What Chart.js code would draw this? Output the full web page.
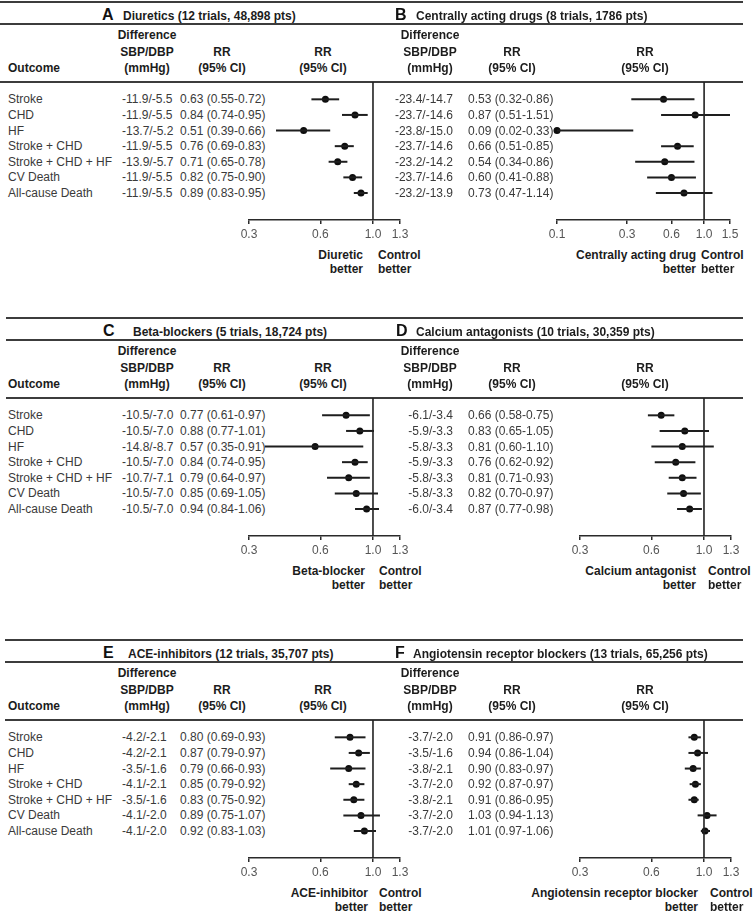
<!DOCTYPE html>
<html>
<head>
<meta charset="utf-8">
<script src="https://cdn.jsdelivr.net/npm/chart.js@4.4.1/dist/chart.umd.min.js"></script>
<style>
body { margin: 0; background: #fff; }
#page { position: relative; width: 756px; height: 914px; overflow: hidden;
        font-family: 'Liberation Sans', Arial, sans-serif; font-size: 12px; color: #3a3a3a; }
.t { position: absolute; white-space: nowrap; line-height: 16px; height: 16px; }
.b { font-weight: bold; color: #1c1c1c; }
.letter { font-weight: bold; font-size: 16px; color: #111; }
.rule { position: absolute; height: 2px; background: #3c3c3c; }
canvas { position: absolute; }
</style>
</head>
<body>
<div id="page"></div>
<script>
const outcomes = ['Stroke', 'CHD', 'HF', 'Stroke + CHD', 'Stroke + CHD + HF', 'CV Death', 'All-cause Death'];

// A - diuretics
const diureticDiff = ['-11.9/-5.5', '-11.9/-5.5', '-13.7/-5.2', '-11.9/-5.5', '-13.9/-5.7', '-11.9/-5.5', '-11.9/-5.5'];
const diureticRR = [0.63, 0.84, 0.51, 0.76, 0.71, 0.82, 0.89];
const diureticLow = [0.55, 0.74, 0.39, 0.69, 0.65, 0.75, 0.83];
const diureticHigh = [0.72, 0.95, 0.66, 0.83, 0.78, 0.90, 0.95];

// B - centrally acting drugs
const centralDiff = ['-23.4/-14.7', '-23.7/-14.6', '-23.8/-15.0', '-23.7/-14.6', '-23.2/-14.2', '-23.7/-14.6', '-23.2/-13.9'];
const centralRR = [0.53, 0.87, 0.09, 0.66, 0.54, 0.60, 0.73];
const centralLow = [0.32, 0.51, 0.02, 0.51, 0.34, 0.41, 0.47];
const centralHigh = [0.86, 1.51, 0.33, 0.85, 0.86, 0.88, 1.14];

// C - beta-blockers
const betaDiff = ['-10.5/-7.0', '-10.5/-7.0', '-14.8/-8.7', '-10.5/-7.0', '-10.7/-7.1', '-10.5/-7.0', '-10.5/-7.0'];
const betaRR = [0.77, 0.88, 0.57, 0.84, 0.79, 0.85, 0.94];
const betaLow = [0.61, 0.77, 0.35, 0.74, 0.64, 0.69, 0.84];
const betaHigh = [0.97, 1.01, 0.91, 0.95, 0.97, 1.05, 1.06];

// D - calcium antagonists
const calciumDiff = ['-6.1/-3.4', '-5.9/-3.3', '-5.8/-3.3', '-5.9/-3.3', '-5.8/-3.3', '-5.8/-3.3', '-6.0/-3.4'];
const calciumRR = [0.66, 0.83, 0.81, 0.76, 0.81, 0.82, 0.87];
const calciumLow = [0.58, 0.65, 0.60, 0.62, 0.71, 0.70, 0.77];
const calciumHigh = [0.75, 1.05, 1.10, 0.92, 0.93, 0.97, 0.98];

// E - ACE-inhibitors
const aceDiff = ['-4.2/-2.1', '-4.2/-2.1', '-3.5/-1.6', '-4.1/-2.1', '-3.5/-1.6', '-4.1/-2.0', '-4.1/-2.0'];
const aceRR = [0.80, 0.87, 0.79, 0.85, 0.83, 0.89, 0.92];
const aceLow = [0.69, 0.79, 0.66, 0.79, 0.75, 0.75, 0.83];
const aceHigh = [0.93, 0.97, 0.93, 0.92, 0.92, 1.07, 1.03];

// F - angiotensin receptor blockers
const arbDiff = ['-3.7/-2.0', '-3.5/-1.6', '-3.8/-2.1', '-3.7/-2.0', '-3.8/-2.1', '-3.7/-2.0', '-3.7/-2.0'];
const arbRR = [0.91, 0.94, 0.90, 0.92, 0.91, 1.03, 1.01];
const arbLow = [0.86, 0.86, 0.83, 0.87, 0.86, 0.94, 0.97];
const arbHigh = [0.97, 1.04, 0.97, 0.97, 0.95, 1.13, 1.06];

const ticksStandard = [0.3, 0.6, 1.0, 1.3];
const ticksCentral = [0.1, 0.3, 0.6, 1.0, 1.5];

const Y_MIN = -1.11;
const Y_MAX = 7.73;

Chart.defaults.font.family = "'Liberation Sans', Arial, sans-serif";
Chart.defaults.font.size = 12;
Chart.defaults.color = '#4a4a4a';

const page = document.getElementById('page');

const panels = [
    { letter: 'A', title: 'Diuretics (12 trials, 48,898 pts)', better: ['Diuretic'],
      diff: diureticDiff, rr: diureticRR, low: diureticLow, high: diureticHigh, ticks: ticksStandard,
      side: 'left', top: 2, plotL: 249, plotR: 400, letterX: 102, titleX: 123, betterR: 363, controlL: 378 },
    { letter: 'B', title: 'Centrally acting drugs (8 trials, 1786 pts)', better: ['Centrally acting drug'],
      diff: centralDiff, rr: centralRR, low: centralLow, high: centralHigh, ticks: ticksCentral,
      side: 'right', top: 2, plotL: 557, plotR: 730, letterX: 395, titleX: 416, betterR: 696, controlL: 701 },
    { letter: 'C', title: 'Beta-blockers (5 trials, 18,724 pts)', better: ['Beta-blocker'],
      diff: betaDiff, rr: betaRR, low: betaLow, high: betaHigh, ticks: ticksStandard,
      side: 'left', top: 318, plotL: 249, plotR: 400, letterX: 103, titleX: 133, betterR: 365, controlL: 379 },
    { letter: 'D', title: 'Calcium antagonists (10 trials, 30,359 pts)', better: ['Calcium antagonist'],
      diff: calciumDiff, rr: calciumRR, low: calciumLow, high: calciumHigh, ticks: ticksStandard,
      side: 'right', top: 318, plotL: 580, plotR: 731, letterX: 396, titleX: 416, betterR: 696, controlL: 708 },
    { letter: 'E', title: 'ACE-inhibitors (12 trials, 35,707 pts)', better: ['ACE-inhibitor'],
      diff: aceDiff, rr: aceRR, low: aceLow, high: aceHigh, ticks: ticksStandard,
      side: 'left', top: 640, plotL: 249, plotR: 400, letterX: 103, titleX: 128, betterR: 368, controlL: 379 },
    { letter: 'F', title: 'Angiotensin receptor blockers (13 trials, 65,256 pts)', better: ['Angiotensin receptor blocker'],
      diff: arbDiff, rr: arbRR, low: arbLow, high: arbHigh, ticks: ticksStandard,
      side: 'right', top: 640, plotL: 580, plotR: 731, letterX: 395, titleX: 413, betterR: 698, controlL: 710 }
];

function addText(x, y, s, cls, align) {
    const d = document.createElement('div');
    d.className = 't' + (cls ? ' ' + cls : '');
    d.textContent = s;
    d.style.left = x + 'px';
    d.style.top = (y - 8) + 'px';
    if (align === 'right') d.style.transform = 'translateX(-100%)';
    if (align === 'center') d.style.transform = 'translateX(-50%)';
    page.appendChild(d);
    return d;
}

function addRule(x1, x2, y) {
    const d = document.createElement('div');
    d.className = 'rule';
    d.style.left = x1 + 'px';
    d.style.width = (x2 - x1) + 'px';
    d.style.top = (y - 1) + 'px';
    page.appendChild(d);
}

// horizontal rules for each row of panels
[[2, 0], [318, 6], [640, 5]].forEach(([top, x0]) => {
    addRule(x0, 743, top);
    addRule(x0, 743, top + 22);
    addRule(x0, 743, top + 80);
});

panels.forEach(p => {
    const left = p.side === 'left';
    const T = p.top;

    addText(p.letterX, T + 13, p.letter, 'letter');
    addText(p.titleX, T + 14, p.title, 'b');

    // column headers
    const diffX = left ? 147 : 430;
    const rrX = left ? 222 : 512;
    const plotHeadX = left ? 323 : 645;
    if (left) addText(8, T + 65.5, 'Outcome', 'b');
    addText(diffX, T + 33, 'Difference', 'b', 'center');
    addText(diffX, T + 49.5, 'SBP/DBP', 'b', 'center');
    addText(diffX, T + 65.5, '(mmHg)', 'b', 'center');
    addText(rrX, T + 49.5, 'RR', 'b', 'center');
    addText(rrX, T + 65.5, '(95% CI)', 'b', 'center');
    addText(plotHeadX, T + 49.5, 'RR', 'b', 'center');
    addText(plotHeadX, T + 65.5, '(95% CI)', 'b', 'center');

    // rows
    const rowEls = outcomes.map((o, i) => {
        const y = T + 97 + i * 15.6;
        const els = [];
        if (left) els.push(addText(8, y, o));
        els.push(left ? addText(122, y, p.diff[i]) : addText(453, y, p.diff[i], '', 'right'));
        const s = p.rr[i].toFixed(2) + ' (' + p.low[i].toFixed(2) + '-' + p.high[i].toFixed(2) + ')';
        els.push(addText(left ? 180 : 468, y, s));
        return els;
    });

    // favour labels
    addText(p.betterR, T + 253, p.better[0], 'b', 'right');
    addText(p.betterR, T + 267, 'better', 'b', 'right');
    addText(p.controlL, T + 253, 'Control', 'b');
    addText(p.controlL, T + 267, 'better', 'b');

    // chart
    const canvas = document.createElement('canvas');
    const cx = left ? 0 : 378;
    const cw = left ? 430 : 378;
    const ch = 250;
    canvas.width = cw;
    canvas.height = ch;
    canvas.style.left = cx + 'px';
    canvas.style.top = T + 'px';
    canvas.style.width = cw + 'px';
    canvas.style.height = ch + 'px';
    page.appendChild(canvas);

    const xMin = p.ticks[0];
    const xMax = p.ticks[p.ticks.length - 1];

    const ciSets = p.rr.map((v, i) => ({
        data: [{ x: p.low[i], y: i }, { x: p.high[i], y: i }],
        showLine: true,
        borderColor: '#1e1e1e',
        borderWidth: 2,
        pointRadius: 0
    }));
    const dotSet = {
        data: p.rr.map((v, i) => ({ x: Math.max(v, xMin), y: i })),
        showLine: false,
        clip: 8,
        pointRadius: 3.5,
        backgroundColor: '#0e0e0e',
        borderWidth: 0
    };
    const refSet = {
        data: [{ x: 1, y: Y_MIN }, { x: 1, y: Y_MAX }],
        showLine: true,
        borderColor: '#222',
        borderWidth: 1.6,
        pointRadius: 0
    };

    new Chart(canvas, {
        type: 'scatter',
        data: { datasets: [refSet, ...ciSets, dotSet] },
        options: {
            responsive: false,
            animation: false,
            events: [],
            layout: {
                padding: { left: p.plotL - cx, right: cx + cw - p.plotR, top: 80, bottom: ch - 218 - 24.4 }
            },
            plugins: { legend: { display: false }, tooltip: { enabled: false } },
            scales: {
                x: {
                    type: 'logarithmic',
                    min: xMin,
                    max: xMax,
                    afterBuildTicks: axis => { axis.ticks = p.ticks.map(v => ({ value: v })); },
                    ticks: {
                        callback: v => Number(v).toFixed(1),
                        color: '#555',
                        padding: 3,
                        autoSkip: false,
                        maxRotation: 0
                    },
                    grid: { drawOnChartArea: false, drawTicks: true, tickLength: 4, color: '#2a2a2a', lineWidth: 1.5 },
                    border: { display: true, color: '#2a2a2a', width: 1.6 }
                },
                y: { type: 'linear', reverse: true, min: Y_MIN, max: Y_MAX, display: false }
            }
        },
        plugins: [{
            id: 'rowText',
            afterDraw(chart) {
                const ys = chart.scales.y;
                rowEls.forEach((els, i) => {
                    const py = T + ys.getPixelForValue(i);
                    els.forEach(el => { el.style.top = (py - 8) + 'px'; });
                });
            }
        }]
    });
});
</script>
</body>
</html>
